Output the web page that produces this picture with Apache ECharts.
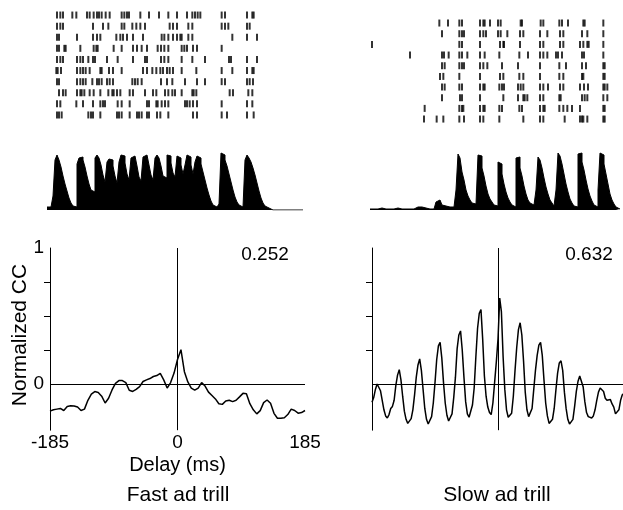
<!DOCTYPE html>
<html>
<head>
<meta charset="utf-8">
<script src="https://cdn.jsdelivr.net/npm/echarts@6/dist/echarts.min.js"></script>
<style>
  html, body { margin: 0; padding: 0; background: #fff; }
  #chart { width: 623px; height: 510px; }
</style>
</head>
<body>
<div id="chart"></div>
<script>
// spike times (ms) per trial
const fastTrials = [
  [15,20,24,38,44,60,64,70,75,78,82,88,94,112,116,120,123,140,153,168,182,195,210,218,222,226,230,262,267,300,308,310],
  [15,20,24,69,84,92,112,116,128,134,140,147,184,189,195,212,218,262,267,272,300,304],
  [15,18,45,69,75,80,104,110,114,120,129,144,172,176,182,189,195,200,202,212,218,278,300,315],
  [15,18,26,28,50,70,74,76,100,112,129,135,142,150,166,171,176,182,202,206,210,219,225,262],
  [15,20,24,45,50,54,62,69,72,90,106,129,147,150,171,176,182,202,218,237,273,276,300,315],
  [14,16,21,45,50,54,58,64,80,82,93,99,112,144,150,158,164,170,174,180,184,189,202,224,262,278,300,308,310],
  [15,18,45,50,54,58,68,75,78,82,90,94,99,128,132,136,142,171,180,188,207,225,237,262,267,300,304,309],
  [18,24,28,45,50,52,56,64,70,80,92,98,100,105,110,124,129,147,159,164,177,182,188,192,202,218,220,224,274,279,302,308],
  [15,20,44,54,69,80,84,87,106,112,124,150,153,164,166,172,177,182,207,210,214,219,225,262,300,308],
  [15,18,22,62,66,69,80,105,108,112,124,135,138,142,150,153,165,170,182,219,225,262,270,300,310]
]
const slowTrials = [
  [104,117,134,138,165,170,172,180,192,196,226,228,256,260,284,288,297,320,322,350],
  [108,134,138,141,165,170,174,192,196,206,225,230,255,266,285,290,318,326,350],
  [3,134,138,165,195,200,201,225,255,260,285,290,315,320,326,328,350],
  [60,108,111,118,134,138,146,165,172,194,224,237,255,260,266,279,282,288,318,321,350],
  [108,112,134,138,141,165,170,176,198,222,255,284,294,318,324,350,352],
  [105,110,134,165,195,200,224,230,255,284,290,318,320,350,352],
  [108,112,134,138,165,170,172,194,198,201,222,226,230,255,260,267,285,290,315,321,327,350,352,356],
  [108,135,138,165,200,222,230,232,236,255,260,284,286,318,322,326,350,356],
  [82,134,138,140,165,170,172,194,198,224,228,255,260,262,284,290,296,303,315,350,352],
  [81,100,110,134,141,165,170,194,230,255,260,292,315,318,320,326,350,352]
]

// histograms, 3 ms bins from 0
const binMs = 3
const fastPsth = [
  3,3,4,14,50,55,50,43,34,26, 19,12,7,4,3,46,52,53,50,43,
  34,26,20,18,52,55,52,45,35,28, 48,51,50,44,34,27,48,55,54,47,
  36,30,52,54,52,44,33,29,53,55, 53,45,35,30,52,55,52,44,34,32,
  55,54,47,37,33,54,52,45,36,45, 55,53,45,36,48,54,52,46,38,30,
  22,15,9,5,3,2,6,57,55,50, 44,36,28,20,13,8,5,3,3,50,
  55,52,48,42,35,27,19,12,7,4, 2,1,0,0,0,0,0,0,0,0,
  0,0,0,0,0,0,0,0
]
const slowPsth = [
  1,1,1,1,1,2,1,1,1,1, 1,1,1,2,2,1,1,1,1,1,
  1,1,2,3,4,3,2,2,2,1, 1,1,1,8,10,8,5,4,3,3,
  2,3,2,20,56,52,38,30,20,14, 10,7,6,5,55,54,42,34,24,16,
  11,8,5,4,48,46,36,26,18,12, 8,5,3,52,53,42,34,24,16,10,
  7,5,3,20,53,50,42,32,23,16, 10,7,4,20,57,54,46,36,26,18,
  11,7,4,3,56,57,48,40,30,21, 14,9,5,3,20,57,55,46,36,26,
  16,10,6,3,1
]

// normalized cross-correlation, lags from -185 ms
const fastStep = 5
const fastCC = [
  -0.20,-0.19,-0.185,-0.18,-0.195,-0.165,-0.16,-0.162,-0.17,-0.195,
  -0.185,-0.12,-0.075,-0.056,-0.062,-0.09,-0.14,-0.105,-0.044,0.005,
  0.025,0.025,0.01,-0.046,-0.055,-0.04,-0.02,0.018,0.03,0.04,
  0.055,0.062,0.078,0.03,-0.03,0.01,0.08,0.18,0.252,0.09,
  0.015,-0.03,-0.045,-0.03,0.01,-0.015,-0.06,-0.085,-0.11,-0.145,
  -0.15,-0.125,-0.12,-0.13,-0.12,-0.095,-0.069,-0.072,-0.145,-0.19,
  -0.22,-0.196,-0.137,-0.118,-0.142,-0.216,-0.252,-0.252,-0.248,-0.225,
  -0.185,-0.195,-0.215,-0.21,-0.195
]
const slowStep = 2.5
const slowCC = [
  -0.135,-0.10,-0.04,0.0,0.0,-0.05,-0.12,-0.19,-0.235,-0.25,
  -0.225,-0.18,-0.165,-0.12,-0.01,0.065,0.105,0.03,-0.09,-0.20,
  -0.26,-0.29,-0.295,-0.255,-0.19,-0.08,0.05,0.14,0.184,0.10,
  -0.04,-0.18,-0.26,-0.294,-0.29,-0.24,-0.14,0.01,0.18,0.28,
  0.306,0.19,0.01,-0.14,-0.23,-0.272,-0.265,-0.22,-0.10,0.05,
  0.26,0.36,0.39,0.25,0.05,-0.13,-0.22,-0.245,-0.24,-0.155,
  -0.03,0.20,0.41,0.52,0.547,0.33,0.06,-0.09,-0.17,-0.21,
  -0.225,-0.14,0.01,0.16,0.33,0.632,0.53,0.20,-0.04,-0.19,
  -0.245,-0.25,-0.215,-0.09,0.10,0.27,0.40,0.45,0.36,0.17,
  -0.06,-0.19,-0.24,-0.23,-0.18,-0.04,0.10,0.21,0.285,0.306,
  0.21,0.03,-0.14,-0.235,-0.29,-0.294,-0.26,-0.18,-0.045,0.08,
  0.155,0.17,0.10,-0.06,-0.18,-0.26,-0.295,-0.305,-0.26,-0.165,
  -0.055,0.02,0.058,0.066,-0.02,-0.13,-0.21,-0.24,-0.25,-0.25,
  -0.235,-0.19,-0.12,-0.06,-0.03,-0.03,-0.055,-0.105,-0.12,-0.11,
  -0.115,-0.147,-0.17,-0.22,-0.23,-0.19,-0.12,-0.08,-0.07
]

const delayTicks = [-185, 0, 185]
const ccTicks = [0.25, 0.5, 0.75]
const ccLabels = [0, 1]
const peakLabels = ['0.252', '0.632']
const panelTitles = ['Fast ad trill', 'Slow ad trill']

const font = '"Liberation Sans", Arial, Helvetica, sans-serif'
const chart = echarts.init(document.getElementById('chart'), null, { renderer: 'canvas' })

const raster = trials => trials.flatMap((row, i) => row.map(t => [t, i + 1]))
const psth = vals => vals.map((v, i) => [i * binMs, v]).concat([[vals.length * binMs, vals[vals.length - 1]]])
const lagged = (vals, step) => vals.map((v, i) => [-185 + i * step, v])

const grids = [
  { left: 47, top: 9.5, width: 256, height: 111 },     // fast raster
  { left: 370, top: 17.7, width: 256, height: 106.7 }, // slow raster
  { left: 47, top: 152, width: 256, height: 58 },      // fast psth
  { left: 370, top: 152, width: 256, height: 58 },     // slow psth
  { left: 50, top: 248, width: 255, height: 182.2 },   // fast cc
  { left: 372, top: 248, width: 252, height: 182.2 }   // slow cc
].map(g => Object.assign({ outerBoundsMode: 'none', containLabel: false }, g))

const hiddenX = i => ({ gridIndex: i, type: 'value', min: 0, max: 384, show: false })
const ccX = (i, labels) => ({
  gridIndex: i, type: 'value', min: -185, max: 185,
  axisLine: { show: false, onZero: false },
  axisTick: { show: false },
  splitLine: { show: false },
  axisLabel: labels
    ? { customValues: delayTicks, color: '#000', fontSize: 19, fontFamily: font, margin: 3 }
    : { show: false },
  name: labels ? 'Delay (ms)' : '',
  nameLocation: 'middle', nameGap: 25,
  nameTextStyle: { color: '#000', fontSize: 20, fontFamily: font }
})
const ccY = (i, labels) => ({
  gridIndex: i, type: 'value', min: -0.34, max: 1,
  axisLine: { show: true, onZero: false, lineStyle: { color: '#000', width: 1 } },
  axisTick: { show: true, customValues: ccTicks, length: 6, lineStyle: { color: '#000', width: 1 } },
  axisLabel: labels
    ? { customValues: ccLabels, color: '#000', fontSize: 19, fontFamily: font, margin: 6 }
    : { show: false },
  splitLine: { show: false }
})

const rasterSeries = (data, i) => ({
  type: 'scatter', xAxisIndex: i, yAxisIndex: i, data,
  symbol: 'rect', symbolSize: [2, 7],
  itemStyle: { color: '#000' }, silent: true
})
const psthSeries = (data, i) => ({
  type: 'line', xAxisIndex: i, yAxisIndex: i, data, step: 'end',
  symbol: 'none', lineStyle: { color: '#000', width: 1 },
  areaStyle: { color: '#000', opacity: 1 }, silent: true
})
const ccSeries = (data, i) => ({
  type: 'line', xAxisIndex: i, yAxisIndex: i, data,
  symbol: 'none', lineStyle: { color: '#000', width: 1.5 }, silent: true,
  markLine: {
    silent: true, symbol: ['none', 'none'], label: { show: false },
    lineStyle: { color: '#000', width: 1, type: 'solid' },
    data: [{ yAxis: 0 }, { xAxis: 0 }]
  }
})

const text = (x, y, s, size, extra) => Object.assign({
  type: 'text', x, y,
  style: { text: s, fill: '#000', font: size + 'px ' + font, textAlign: 'center', textVerticalAlign: 'middle' }
}, extra || {})

chart.setOption({
  animation: false,
  backgroundColor: '#fff',
  textStyle: { fontFamily: font },
  grid: grids,
  xAxis: [hiddenX(0), hiddenX(1), hiddenX(2), hiddenX(3), ccX(4, true), ccX(5, false)],
  yAxis: [
    { gridIndex: 0, type: 'value', min: 0.5, max: 10.5, inverse: true, show: false },
    { gridIndex: 1, type: 'value', min: 0.5, max: 10.5, inverse: true, show: false },
    { gridIndex: 2, type: 'value', min: 0, max: 58, show: false },
    { gridIndex: 3, type: 'value', min: 0, max: 58, show: false },
    ccY(4, true), ccY(5, false)
  ],
  series: [
    rasterSeries(raster(fastTrials), 0),
    rasterSeries(raster(slowTrials), 1),
    psthSeries(psth(fastPsth), 2),
    psthSeries(psth(slowPsth), 3),
    ccSeries(lagged(fastCC, fastStep), 4),
    ccSeries(lagged(slowCC, slowStep), 5)
  ],
  graphic: [
    text(265, 255, peakLabels[0], 19),
    text(589, 255, peakLabels[1], 19),
    text(178, 495, panelTitles[0], 21),
    text(497, 495, panelTitles[1], 21),
    text(20, 335, 'Normalized CC', 21, { rotation: Math.PI / 2 })
  ]
})
</script>
</body>
</html>
